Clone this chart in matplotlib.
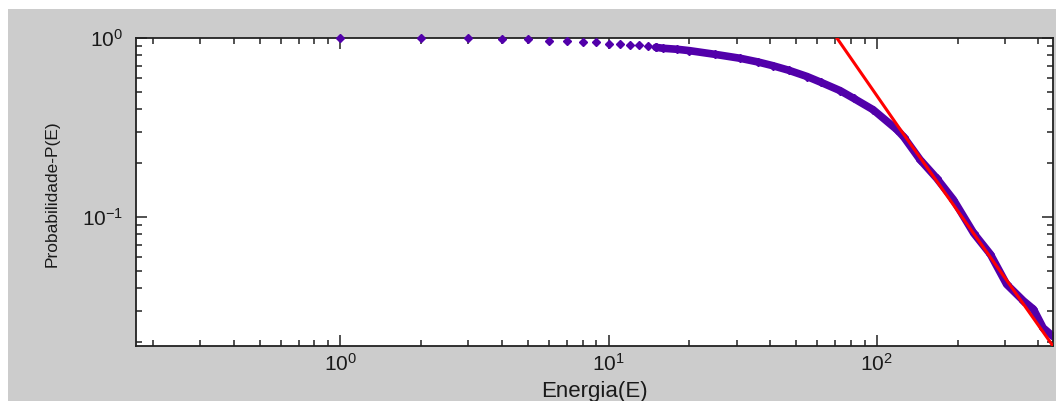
import numpy as np
import matplotlib
matplotlib.use('Agg')
import matplotlib.pyplot as plt
from matplotlib.patches import Rectangle
from matplotlib.ticker import LogLocator, NullFormatter

plt.rcParams['font.family'] = ['Liberation Sans', 'DejaVu Sans']

# low energies: separate markers, one per integer energy
energy_low = [1, 2, 3, 4, 5, 6, 7, 8, 9, 10, 11, 12, 13, 14, 15]
prob_low = [1.0, 1.0, 0.997, 0.987, 0.985, 0.966, 0.964, 0.946, 0.944,
            0.93, 0.928, 0.914, 0.91, 0.899, 0.887]

# high energies: markers so dense they form a band
energy_tail = [15, 16, 18, 20, 25, 31, 36, 41, 47, 55, 62, 73, 82, 97,
               119, 126, 145, 167, 193, 230, 265, 305, 352, 384, 417, 454]
prob_tail = [0.887, 0.876, 0.865, 0.85, 0.81, 0.77, 0.735, 0.70, 0.66,
             0.609, 0.565, 0.508, 0.46, 0.397, 0.307, 0.28, 0.209,
             0.165, 0.125, 0.081, 0.062, 0.042, 0.034, 0.0305, 0.024, 0.0215]

# power-law fit (red line)
fit_energy = [71, 122, 454]
fit_prob = [1.0, 0.31, 0.019]

purple = '#5200aa'

W, H = 1056, 401
fig = plt.figure(figsize=(W / 100, H / 100), dpi=100, facecolor='white')
fig.add_artist(Rectangle((8 / W, 0), 1, (H - 9) / H, transform=fig.transFigure,
                         facecolor='#cccccc', edgecolor='none', zorder=-10))

ax = fig.add_axes([136 / W, 1 - 346 / H, (1053 - 136) / W, (346 - 38) / H])
ax.set_facecolor('white')

ax.plot(energy_tail, prob_tail, '-D', color=purple, lw=5.5, ms=4.5,
        solid_joinstyle='round', solid_capstyle='round', zorder=2)
ax.plot(energy_low, prob_low, 'D', color=purple, ms=4.5, clip_on=False, zorder=3)
ax.plot(fit_energy, fit_prob, '-', color='red', lw=2.2, zorder=4)

ax.set_xscale('log')
ax.set_yscale('log')
ax.set_xlim(0.173, 454)
ax.set_ylim(0.019, 1.0)

ax.xaxis.set_major_locator(LogLocator(base=10, numticks=10))
ax.xaxis.set_minor_locator(LogLocator(base=10, subs=np.arange(2, 10), numticks=20))
ax.yaxis.set_minor_locator(LogLocator(base=10, subs=np.arange(2, 10), numticks=20))
ax.xaxis.set_minor_formatter(NullFormatter())
ax.yaxis.set_minor_formatter(NullFormatter())

ax.tick_params(which='both', direction='in', top=True, right=True,
               colors='#222222', labelcolor='#1a1a1a', labelsize=15)
ax.tick_params(which='major', length=8, width=1.1)
ax.tick_params(which='minor', length=4, width=1.1)
ax.tick_params(axis='x', pad=5)
ax.tick_params(axis='y', pad=9)

for s in ax.spines.values():
    s.set_color('#222222')
    s.set_linewidth(1.3)

ax.set_xlabel('Energia(E)', fontsize=16, color='#1a1a1a')
ax.xaxis.set_label_coords(0.5, -0.115)
ax.set_ylabel('Probabilidade-P(E)', fontsize=12.5, color='#1a1a1a')
ax.yaxis.set_label_coords(-0.083, 0.495)

plt.savefig('out.png', dpi=100)
